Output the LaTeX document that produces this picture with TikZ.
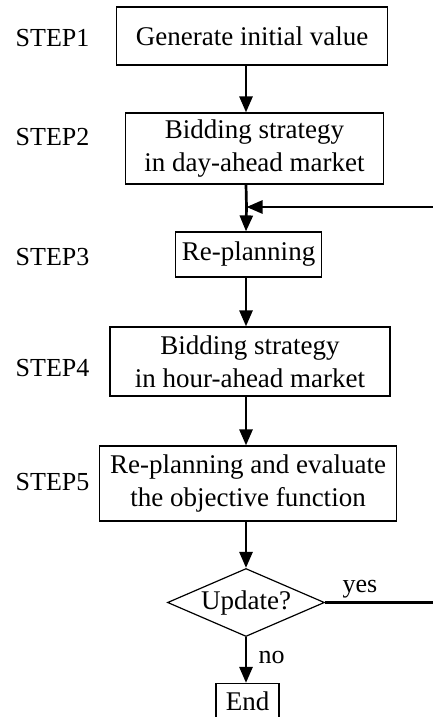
\documentclass[tikz,border=0pt]{standalone}
\usepackage{fontspec}
\setmainfont{Liberation Serif}
\usetikzlibrary{arrows.meta,shapes.geometric}

\begin{document}
\begin{tikzpicture}[->,>={Triangle[length=16pt,width=13pt]},line width=2.7pt,
  node distance=110pt,
  step node/.style={rectangle,draw,line width=1.2pt,align=center,inner sep=0pt,font=\fontsize{27}{33}\selectfont},
  text node/.style={font=\fontsize{26}{33}\selectfont}]

 \useasboundingbox (0,0) rectangle (432pt,-717pt);

 \node[step node,minimum width=271pt,minimum height=58pt] (init) at (252pt,-36pt) {Generate initial value};
 \node[step node,minimum width=258pt,minimum height=71pt] (dayahead) [below of=init,node distance=112.5pt,xshift=2.5pt] {Bidding strategy\\in day-ahead market};
 \node[step node,minimum width=146pt,minimum height=45pt] (replan) [below of=dayahead,node distance=106pt,xshift=-6pt] {Re-planning};
 \node[step node,minimum width=280pt,minimum height=69pt] (hourahead) [below of=replan,node distance=107pt,xshift=1.5pt] {Bidding strategy\\in hour-ahead market};
 \node[step node,minimum width=297pt,minimum height=75pt] (evaluate) [below of=hourahead,node distance=122pt,xshift=-2pt] {Re-planning and evaluate\\the objective function};
 \node[step node,diamond,aspect=2.3,minimum width=157pt,minimum height=68pt] (update) [below of=evaluate,node distance=119pt,xshift=-2pt] {Update?};
 \node[step node,minimum width=63pt,minimum height=36pt] (end) [below of=update,node distance=99pt,xshift=1.5pt] {End};

 \node[text node,anchor=west] (s1) at (11pt,-38pt) {STEP1};
 \node[text node,anchor=west] (s2) at (11pt,-137pt) {STEP2};
 \node[text node,anchor=west] (s3) at (11pt,-257pt) {STEP3};
 \node[text node,anchor=west] (s4) at (11pt,-368pt) {STEP4};
 \node[text node,anchor=west] (s5) at (11pt,-482pt) {STEP5};

 \coordinate (join) at (246.5pt,-207pt);
 \coordinate (edge) at (434pt,-207pt);

 \draw (init.south -| update) -- (dayahead.north -| update);
 \draw[-] (dayahead.south -| update) -- (join);
 \draw (join) -- (replan.north -| update);
 \draw (replan.south -| update) -- (hourahead.north -| update);
 \draw (hourahead.south -| update) -- (evaluate.north -| update);
 \draw (evaluate.south -| update) -- (update.north);
 \draw (update.south) -- node[text node,right,xshift=8pt,pos=0.44] (no) {no} (end.north -| update);
 \draw (update.east) -- node[text node,above,pos=0.32] (yes) {yes} (update.east -| edge) -- (edge) -- (join);

\end{tikzpicture}
\end{document}
